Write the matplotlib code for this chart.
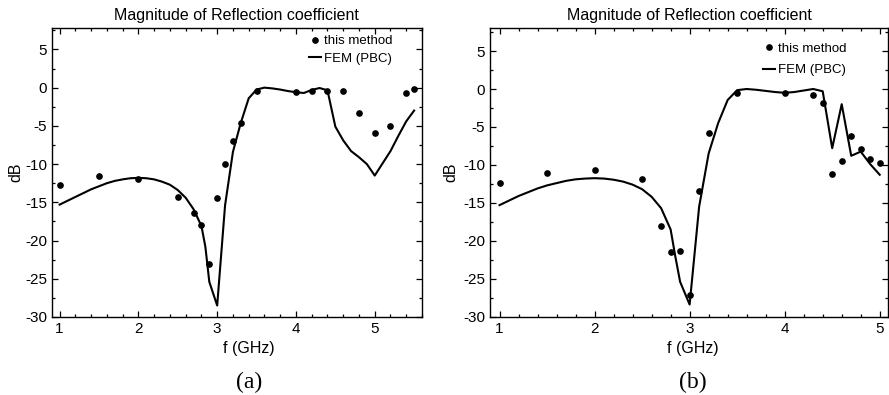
import matplotlib
matplotlib.use("Agg")
import matplotlib.pyplot as plt
from matplotlib.ticker import MultipleLocator

plt.rcParams['font.family'] = ['Liberation Sans', 'DejaVu Sans']
plt.rcParams['axes.unicode_minus'] = False

# (a) 数据
xa_pts = [1.0, 1.5, 2.0, 2.5, 2.7, 2.8, 2.9, 3.0, 3.1, 3.2, 3.3, 3.5, 4.0, 4.2, 4.4, 4.6, 4.8, 5.0, 5.2, 5.4, 5.5]
ya_pts = [-12.7, -11.5, -11.9, -14.3, -16.4, -18.0, -23.1, -14.5, -10.0, -7.0, -4.6, -0.4, -0.55, -0.5, -0.5,
          -0.4, -3.3, -5.9, -5.0, -0.7, -0.2]
xa_fem = [1.0, 1.1, 1.2, 1.3, 1.4, 1.5, 1.6, 1.7, 1.8, 1.9, 2.0, 2.1, 2.2, 2.3, 2.4, 2.5, 2.6, 2.7, 2.8, 2.85,
          2.9, 3.0, 3.1, 3.2, 3.3, 3.4, 3.5, 3.6, 3.7, 3.8, 3.9, 4.0, 4.1, 4.2, 4.3, 4.4, 4.5, 4.6, 4.7, 4.8,
          4.9, 5.0, 5.1, 5.2, 5.3, 5.4, 5.5]
ya_fem = [-15.3, -14.8, -14.3, -13.8, -13.3, -12.9, -12.5, -12.2, -12.0, -11.85, -11.8, -11.85, -12.0, -12.3,
          -12.7, -13.4, -14.4, -15.9, -18.1, -20.8, -25.4, -28.5, -15.4, -8.4, -4.6, -1.4, -0.25, 0.0, -0.1,
          -0.25, -0.45, -0.6, -0.7, -0.3, -0.05, -0.35, -5.1, -6.9, -8.3, -9.1, -10.0, -11.5, -9.9, -8.3,
          -6.3, -4.4, -3.0]

# (b) 数据
xb_pts = [1.0, 1.5, 2.0, 2.5, 2.7, 2.8, 2.9, 3.0, 3.1, 3.2, 3.5, 4.0, 4.3, 4.4, 4.5, 4.6, 4.7, 4.8, 4.9, 5.0]
yb_pts = [-12.4, -11.1, -10.66, -11.9, -18.0, -21.45, -21.3, -27.2, -13.5, -5.75, -0.5, -0.5, -0.8, -1.9,
          -11.2, -9.5, -6.2, -7.9, -9.2, -9.7]
xb_fem = [1.0, 1.1, 1.2, 1.3, 1.4, 1.5, 1.6, 1.7, 1.8, 1.9, 2.0, 2.1, 2.2, 2.3, 2.4, 2.5, 2.6, 2.7, 2.8, 2.85,
          2.9, 3.0, 3.1, 3.2, 3.3, 3.4, 3.5, 3.6, 3.7, 3.8, 3.9, 4.0, 4.1, 4.2, 4.3, 4.4, 4.5, 4.6, 4.7, 4.8,
          4.9, 5.0]
yb_fem = [-15.3, -14.7, -14.1, -13.6, -13.1, -12.7, -12.4, -12.1, -11.9, -11.8, -11.75, -11.8, -11.95, -12.2,
          -12.6, -13.2, -14.2, -15.7, -18.5, -22.1, -25.4, -28.4, -15.5, -8.5, -4.5, -1.45, -0.15, 0.0, -0.1,
          -0.25, -0.4, -0.5, -0.4, -0.2, 0.0, -0.3, -7.8, -2.0, -8.8, -8.25, -9.9, -11.3]

fig = plt.figure(figsize=(8.89, 3.95), dpi=100)
ax1 = fig.add_axes([0.0582, 0.1975, 0.4165, 0.7316])
ax2 = fig.add_axes([0.5512, 0.1982, 0.4480, 0.7302])

panels = [
    (ax1, xa_pts, ya_pts, xa_fem, ya_fem, (0.9, 5.6), 7.8, '(a)', 0.533, -0.0775, (0.92, 0.975), 0.4),
    (ax2, xb_pts, yb_pts, xb_fem, yb_fem, (0.9, 5.09), 8.0, '(b)', 0.51, -0.0796, (0.896, 0.95), 0.7),
]

for ax, xp, yp, xf, yf, xl, ytop, tag, xlab_x, ylab_x, leg_xy, lspace in panels:
    ax.plot(xp, yp, 'o', color='black', ms=3.8, label='this method')
    ax.plot(xf, yf, '-', color='black', lw=1.5, label='FEM (PBC)')
    ax.set_xlim(*xl)
    ax.set_ylim(-30, ytop)
    ax.xaxis.set_major_locator(MultipleLocator(1))
    ax.xaxis.set_minor_locator(MultipleLocator(0.2))
    ax.yaxis.set_major_locator(MultipleLocator(5))
    ax.yaxis.set_minor_locator(MultipleLocator(2.5))
    ax.tick_params(which='both', direction='in', top=True, right=True, labelsize=11, width=0.9)
    ax.tick_params(which='major', length=4.5)
    ax.tick_params(which='minor', length=2.2)
    for sp in ax.spines.values():
        sp.set_linewidth(1.0)
    ax.set_title('Magnitude of Reflection coefficient', fontsize=11.5)
    ax.set_xlabel('f (GHz)', fontsize=11.5)
    ax.xaxis.label.set_x(xlab_x)
    ax.set_ylabel('dB', fontsize=11.5)
    ax.yaxis.set_label_coords(ylab_x, 0.5)
    ax.legend(loc='upper right', bbox_to_anchor=leg_xy, frameon=False, fontsize=9.5,
              handlelength=0.9, handletextpad=0.25, borderpad=0, borderaxespad=0,
              labelspacing=lspace, numpoints=1)
    # 子图编号
    pos = ax.get_position()
    fig.text(pos.x0 + xlab_x * pos.width, 7.0 / 395, tag, ha='center', va='baseline',
             fontsize=17, family=['Liberation Serif', 'DejaVu Serif'])

fig.savefig('out.png', dpi=100)
